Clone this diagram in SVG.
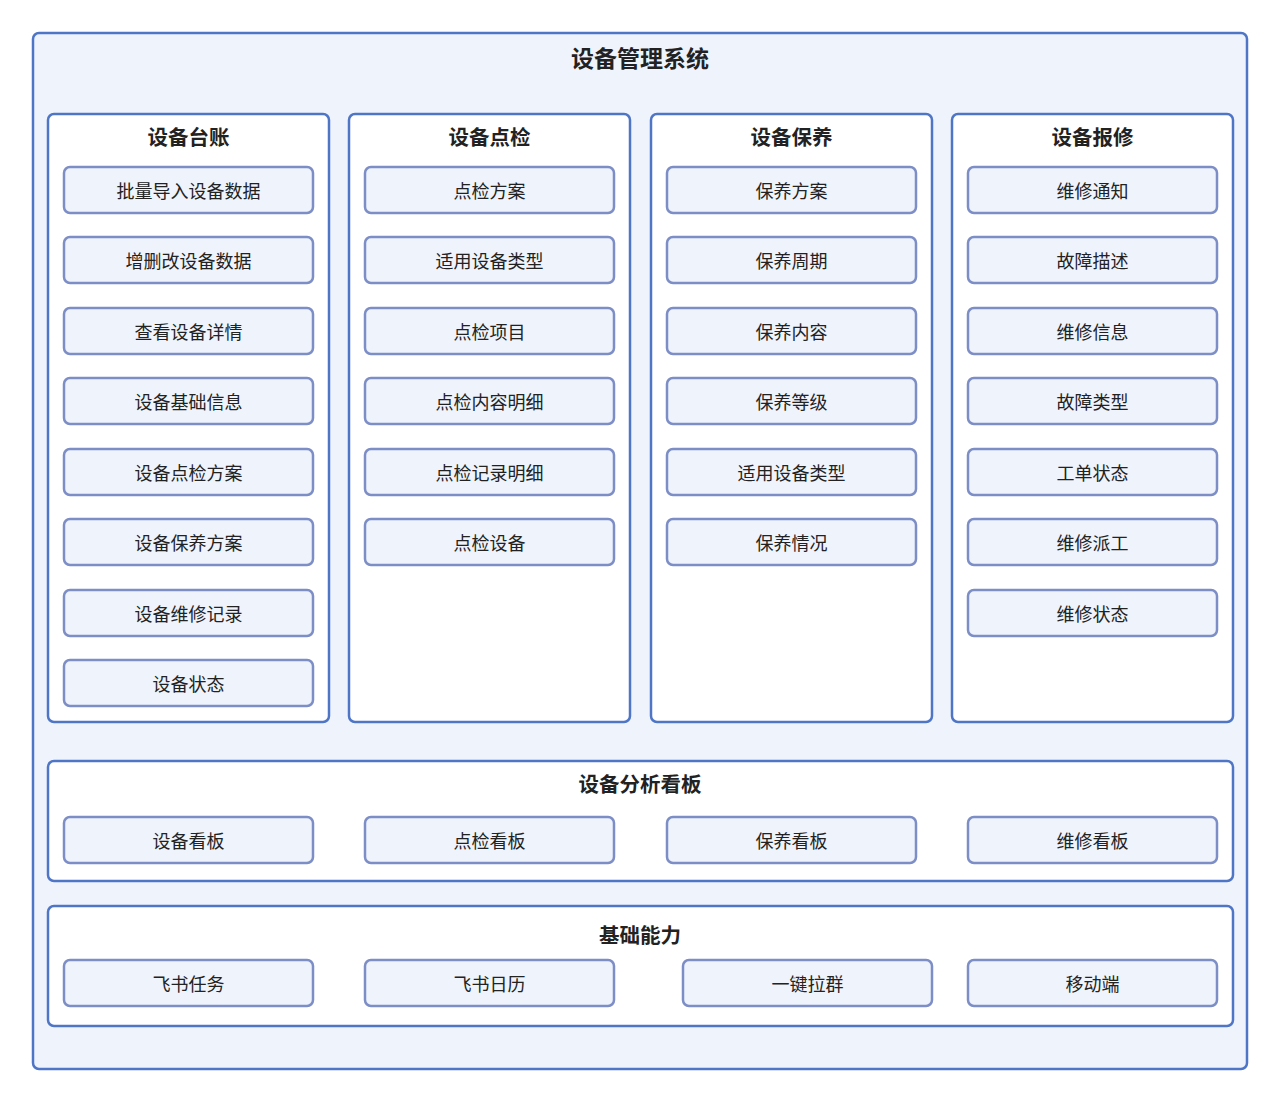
<svg xmlns="http://www.w3.org/2000/svg" width="1280" height="1102" viewBox="0 0 1280 1102">
<style>
.outer{fill:#eff4fc;stroke:#4f76c6;stroke-width:2.5}
.panel{fill:#ffffff;stroke:#4f76c6;stroke-width:2.5}
.item{fill:#eef3fc;stroke:#7d8ec6;stroke-width:2.5}
.t{font-family:"Noto Sans CJK SC","Noto Sans",sans-serif;fill:#222;text-anchor:middle;dominant-baseline:central}
.h0{font-size:23px;font-weight:bold}
.h1{font-size:20.5px;font-weight:bold}
.i{font-size:18px}
</style>
<rect width="1280" height="1102" fill="#ffffff"/>
<g id="system">
<rect class="outer" x="33" y="33" width="1214" height="1036" rx="6"/>
<text class="t h0" x="640" y="56.5">设备管理系统</text>
</g>
<g id="ledger">
<rect class="panel" x="48" y="114" width="281" height="608" rx="6"/>
<text class="t h1" x="188.5" y="135.5">设备台账</text>
<rect class="item" x="64" y="167" width="249" height="46" rx="6"/><text class="t i" x="188.5" y="189.5">批量导入设备数据</text>
<rect class="item" x="64" y="237" width="249" height="46" rx="6"/><text class="t i" x="188.5" y="259.5">增删改设备数据</text>
<rect class="item" x="64" y="308" width="249" height="46" rx="6"/><text class="t i" x="188.5" y="330.5">查看设备详情</text>
<rect class="item" x="64" y="378" width="249" height="46" rx="6"/><text class="t i" x="188.5" y="400.5">设备基础信息</text>
<rect class="item" x="64" y="449" width="249" height="46" rx="6"/><text class="t i" x="188.5" y="471.5">设备点检方案</text>
<rect class="item" x="64" y="519" width="249" height="46" rx="6"/><text class="t i" x="188.5" y="541.5">设备保养方案</text>
<rect class="item" x="64" y="590" width="249" height="46" rx="6"/><text class="t i" x="188.5" y="612.5">设备维修记录</text>
<rect class="item" x="64" y="660" width="249" height="46" rx="6"/><text class="t i" x="188.5" y="682.5">设备状态</text>
</g>
<g id="inspection">
<rect class="panel" x="349" y="114" width="281" height="608" rx="6"/>
<text class="t h1" x="489.5" y="135.5">设备点检</text>
<rect class="item" x="365" y="167" width="249" height="46" rx="6"/><text class="t i" x="489.5" y="189.5">点检方案</text>
<rect class="item" x="365" y="237" width="249" height="46" rx="6"/><text class="t i" x="489.5" y="259.5">适用设备类型</text>
<rect class="item" x="365" y="308" width="249" height="46" rx="6"/><text class="t i" x="489.5" y="330.5">点检项目</text>
<rect class="item" x="365" y="378" width="249" height="46" rx="6"/><text class="t i" x="489.5" y="400.5">点检内容明细</text>
<rect class="item" x="365" y="449" width="249" height="46" rx="6"/><text class="t i" x="489.5" y="471.5">点检记录明细</text>
<rect class="item" x="365" y="519" width="249" height="46" rx="6"/><text class="t i" x="489.5" y="541.5">点检设备</text>
</g>
<g id="maintenance">
<rect class="panel" x="651" y="114" width="281" height="608" rx="6"/>
<text class="t h1" x="791.5" y="135.5">设备保养</text>
<rect class="item" x="667" y="167" width="249" height="46" rx="6"/><text class="t i" x="791.5" y="189.5">保养方案</text>
<rect class="item" x="667" y="237" width="249" height="46" rx="6"/><text class="t i" x="791.5" y="259.5">保养周期</text>
<rect class="item" x="667" y="308" width="249" height="46" rx="6"/><text class="t i" x="791.5" y="330.5">保养内容</text>
<rect class="item" x="667" y="378" width="249" height="46" rx="6"/><text class="t i" x="791.5" y="400.5">保养等级</text>
<rect class="item" x="667" y="449" width="249" height="46" rx="6"/><text class="t i" x="791.5" y="471.5">适用设备类型</text>
<rect class="item" x="667" y="519" width="249" height="46" rx="6"/><text class="t i" x="791.5" y="541.5">保养情况</text>
</g>
<g id="repair">
<rect class="panel" x="952" y="114" width="281" height="608" rx="6"/>
<text class="t h1" x="1092.5" y="135.5">设备报修</text>
<rect class="item" x="968" y="167" width="249" height="46" rx="6"/><text class="t i" x="1092.5" y="189.5">维修通知</text>
<rect class="item" x="968" y="237" width="249" height="46" rx="6"/><text class="t i" x="1092.5" y="259.5">故障描述</text>
<rect class="item" x="968" y="308" width="249" height="46" rx="6"/><text class="t i" x="1092.5" y="330.5">维修信息</text>
<rect class="item" x="968" y="378" width="249" height="46" rx="6"/><text class="t i" x="1092.5" y="400.5">故障类型</text>
<rect class="item" x="968" y="449" width="249" height="46" rx="6"/><text class="t i" x="1092.5" y="471.5">工单状态</text>
<rect class="item" x="968" y="519" width="249" height="46" rx="6"/><text class="t i" x="1092.5" y="541.5">维修派工</text>
<rect class="item" x="968" y="590" width="249" height="46" rx="6"/><text class="t i" x="1092.5" y="612.5">维修状态</text>
</g>
<g id="dashboard">
<rect class="panel" x="48" y="761" width="1185" height="120" rx="6"/>
<text class="t h1" x="640" y="782.5">设备分析看板</text>
<rect class="item" x="64" y="817" width="249" height="46" rx="6"/><text class="t i" x="188.5" y="839.5">设备看板</text>
<rect class="item" x="365" y="817" width="249" height="46" rx="6"/><text class="t i" x="489.5" y="839.5">点检看板</text>
<rect class="item" x="667" y="817" width="249" height="46" rx="6"/><text class="t i" x="791.5" y="839.5">保养看板</text>
<rect class="item" x="968" y="817" width="249" height="46" rx="6"/><text class="t i" x="1092.5" y="839.5">维修看板</text>
</g>
<g id="base">
<rect class="panel" x="48" y="906" width="1185" height="120" rx="6"/>
<text class="t h1" x="640" y="933.5">基础能力</text>
<rect class="item" x="64" y="960" width="249" height="46" rx="6"/><text class="t i" x="188.5" y="982.5">飞书任务</text>
<rect class="item" x="365" y="960" width="249" height="46" rx="6"/><text class="t i" x="489.5" y="982.5">飞书日历</text>
<rect class="item" x="683" y="960" width="249" height="46" rx="6"/><text class="t i" x="807.5" y="982.5">一键拉群</text>
<rect class="item" x="968" y="960" width="249" height="46" rx="6"/><text class="t i" x="1092.5" y="982.5">移动端</text>
</g>
<g id="connectors"></g>
</svg>
